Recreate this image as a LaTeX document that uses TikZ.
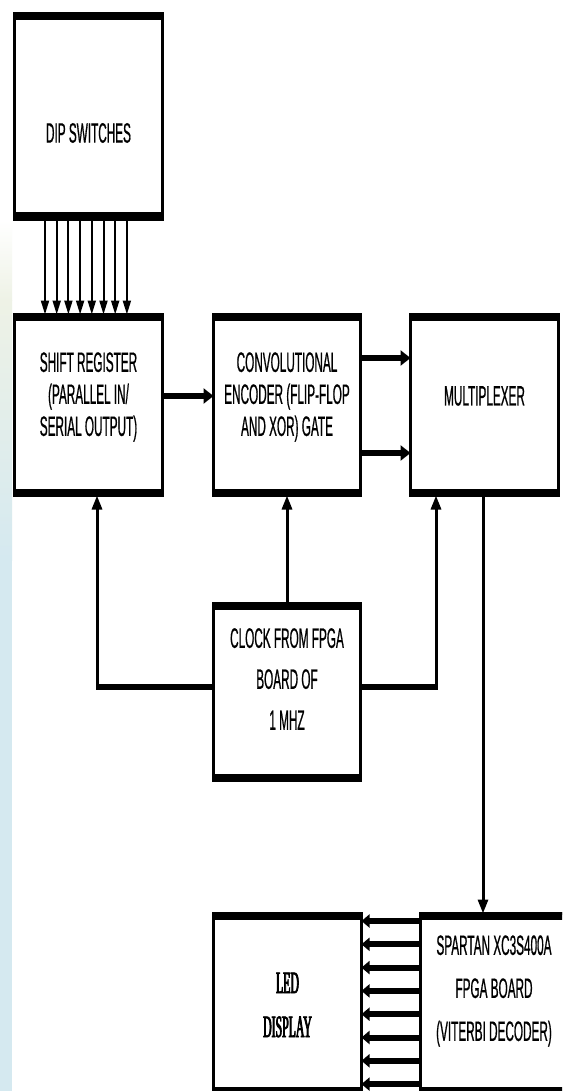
\documentclass[tikz,border=0pt]{standalone}
\usepackage{fontspec}
\usetikzlibrary{arrows.meta,calc}
\newfontfamily\labfont[FakeStretch=0.42,FakeBold=0.6]{Liberation Sans}
\newfontfamily\ledfont[FakeStretch=0.38,FakeBold=2.5]{Liberation Serif}
\definecolor{strip}{HTML}{D5E9F0}
\definecolor{stripb}{HTML}{EEF2E6}
\begin{document}
\begin{tikzpicture}[x=1pt,y=-1pt,
  blk/.style={draw, line width=3pt, inner sep=0pt, outer sep=0pt, fill=white},
  lab/.style={inner sep=0pt, align=center, font=\labfont\fontsize{28}{32}\selectfont},
  ledlab/.style={inner sep=0pt, align=center, font=\ledfont\fontsize{31}{44}\selectfont},
  dipar/.style={line width=2pt, -{Triangle[length=14pt,width=8pt]}},
  thinar/.style={line width=3pt, -{Triangle[length=14pt,width=10pt]}},
  thickar/.style={line width=6pt, -{Triangle[length=10pt,width=15pt]}},
  ledar/.style={line width=6pt, -{Triangle[length=8pt,width=13pt]}},
  hline/.style={line width=6pt}]
\useasboundingbox (0,0) rectangle (562,1091);
\clip (0,0) rectangle (562,1091);
\fill[white] (0,0) rectangle (562,1091);
\shade[top color=white, bottom color=stripb] (0,220) rectangle (12,300);
\shade[top color=stripb, bottom color=strip] (0,300) rectangle (12,560);
\fill[strip] (0,560) rectangle (12,1091);
% boxes
\node[blk, minimum width=148pt, minimum height=206pt] (dip) at (88.5,116.5) {};
\node[blk, minimum width=148pt, minimum height=181pt] (shift) at (88.5,405) {};
\node[blk, minimum width=147pt, minimum height=181pt] (conv) at (287,405) {};
\node[blk, minimum width=148pt, minimum height=181pt] (mux) at (484.5,405) {};
\node[blk, minimum width=147pt, minimum height=177pt] (clk) at (287,692) {};
\node[blk, minimum width=148pt, minimum height=180pt] (led) at (287.5,1003.5) {};
\node[blk, minimum width=148pt, minimum height=180pt] (spartan) at (494.5,1003.5) {};
% thick top and bottom edges of the boxes
\foreach \n in {dip,shift,conv,mux,clk,led,spartan}{
  \fill ([xshift=-1.5pt,yshift=1.5pt]\n.north west) rectangle ([xshift=1.5pt,yshift=-6.5pt]\n.north east);
  \fill ([xshift=-1.5pt,yshift=7pt]\n.south west) rectangle ([xshift=1.5pt,yshift=-1.5pt]\n.south east);
}
% texts
\node[lab] (dipT) at (88.5,133) {DIP SWITCHES};
\node[lab] (shiftT) at (88.5,397) {SHIFT REGISTER\\(PARALLEL IN/\\SERIAL OUTPUT)};
\node[lab] (convT) at (287,397) {CONVOLUTIONAL\\ENCODER (FLIP-FLOP\\AND XOR) GATE};
\node[lab] (muxT) at (484.5,396) {MULTIPLEXER};
\node[lab, font=\labfont\fontsize{28}{41}\selectfont] (clkT) at (287,679) {CLOCK FROM FPGA\\BOARD OF\\1 MHZ};
\node[ledlab] (ledT) at (287.5,1005) {LED\\DISPLAY};
\node[lab, font=\labfont\fontsize{28}{43}\selectfont] (spT) at (494,991) {SPARTAN XC3S400A\\FPGA BOARD\\(VITERBI DECODER)};
% dip to shift register
\foreach \i in {0,...,7}{
  \draw[dipar] ([xshift={-43.5+11.7*\i}]dip.south) -- ([xshift={-43.5+11.7*\i}]shift.north);
}
% shift -> conv
\draw[thickar] ([yshift=9pt]shift.east) -- ([yshift=9pt]conv.west);
% conv -> mux
\draw[thickar] ([yshift=47pt]conv.east) -- ([yshift=47pt]mux.west);
\draw[thickar] ([yshift=-48pt]conv.east) -- ([yshift=-48pt]mux.west);
% mux -> spartan
\draw[thinar] ([xshift=-1.5pt]mux.south) -- ([xshift=-1.5pt]mux.south |- spartan.north);
% clock connections
\coordinate (cl) at (97,687);
\coordinate (cr) at (436,687);
\draw[thinar] (clk.north) -- (conv.south);
\draw[thinar] (clk.west |- cl) -| (shift.south -| cl);
\draw[hline] (clk.west |- cl) -- ([xshift=-1.5pt]cl);
\draw[thinar] (clk.east |- cr) -| (mux.south -| cr);
\draw[hline] (clk.east |- cr) -- ([xshift=1.5pt]cr);
% spartan -> led
\foreach \i in {0,...,7}{
  \draw[ledar] ([yshift={1003.5-921-23.3*\i}]spartan.west) -- ([yshift={1003.5-921-23.3*\i}]led.east);
}
\end{tikzpicture}
\end{document}
